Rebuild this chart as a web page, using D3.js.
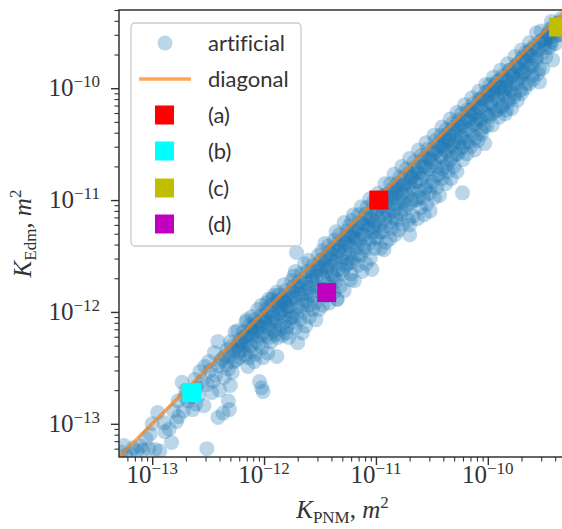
<!DOCTYPE html>
<html>
<head>
<meta charset="utf-8">
<script src="https://cdn.jsdelivr.net/npm/d3@7"></script>
<style>
  body { margin: 0; background: #fff; }
  svg { display: block; }
  text { font-variant-ligatures: none; }
</style>
</head>
<body>
<svg id="chart" width="562" height="529"></svg>
<script>
// permeability pairs: [K_PNM, K_Edm] in m^2
var artificial = [
  [5.3e-14, 5.6e-14], [5.8e-14, 5.2e-14], [6.3e-14, 5.4e-14], [6.8e-14, 6.1e-14], [7.3e-14, 5.7e-14],
  [7.9e-14, 6.3e-14], [8.2e-14, 5.8e-14], [8.8e-14, 7.4e-14], [9.3e-14, 6.0e-14], [5.6e-14, 6.4e-14],
  [9.6e-14, 8.1e-14],
  [1.0e-13, 1.0e-13], [1.12e-13, 1.26e-13], [1.3e-13, 8.5e-14], [1.49e-13, 6.8e-14], [1.06e-13, 5.9e-14],
  [1.17e-13, 5.7e-14], [1.72e-13, 1.16e-13], [1.28e-13, 1.02e-13], [1.42e-13, 9.0e-14], [1.55e-13, 1.3e-13],
  [1.65e-13, 1.05e-13],
  [1.85e-13, 2.35e-13], [2.41e-13, 2.49e-13], [2.3e-13, 1.34e-13], [2.67e-13, 2.93e-13], [2.95e-13, 3.25e-13],
  [2.1e-13, 1.6e-13], [2.6e-13, 1.8e-13], [2.9e-13, 1.45e-13], [1.9e-13, 1.3e-13], [1.7e-13, 1.6e-13],
  [3.1e-13, 2.25e-13], [2.0e-13, 2.0e-13], [2.2e-13, 1.75e-13], [2.5e-13, 2.1e-13], [2.8e-13, 2.4e-13],
  [2.45e-13, 1.5e-13], [1.95e-13, 1.75e-13], [3.08e-13, 6.0e-14],
  [3.87e-13, 5.43e-13], [3.6e-13, 4.33e-13], [4.9e-13, 4.0e-13], [5.2e-13, 2.88e-13], [4.9e-13, 1.34e-13],
  [3.87e-13, 1.14e-13], [5.1e-13, 4.9e-13], [3.3e-13, 3.0e-13], [3.5e-13, 2.4e-13], [3.9e-13, 3.3e-13],
  [4.2e-13, 3.8e-13], [4.4e-13, 2.6e-13], [4.6e-13, 3.4e-13], [4.0e-13, 2.0e-13], [3.4e-13, 1.9e-13],
  [4.7e-13, 4.6e-13], [5.4e-13, 3.6e-13], [5.0e-13, 2.2e-13], [3.7e-13, 2.7e-13], [4.3e-13, 1.25e-13],
  [3.2e-13, 3.6e-13], [4.8e-13, 1.6e-13],
  [7.16e-13, 3.25e-13], [9.1e-13, 2.39e-13], [9.5e-13, 2.1e-13], [9.8e-13, 1.94e-13], [6.1e-13, 5.66e-13],
  [7.8e-13, 9.1e-13], [8.3e-13, 8.5e-13], [9.8e-13, 3.9e-13], [5.8e-13, 6.8e-13], [6.4e-13, 4.6e-13],
  [6.7e-13, 6.0e-13], [7.0e-13, 5.2e-13], [7.4e-13, 7.6e-13], [7.5e-13, 4.4e-13], [8.0e-13, 6.5e-13],
  [8.6e-13, 5.5e-13], [8.8e-13, 1.05e-12], [9.2e-13, 7.4e-13], [9.6e-13, 4.8e-13], [6.0e-13, 3.9e-13],
  [6.9e-13, 8.1e-13], [8.4e-13, 4.2e-13], [9.4e-13, 9.3e-13], [5.9e-13, 5.0e-13], [7.7e-13, 5.9e-13],
  [8.9e-13, 6.1e-13],
  [1.3e-12, 4.0e-13], [1.08e-12, 4.3e-13], [1.06e-12, 1.21e-12], [1.02e-12, 8.0e-13], [1.05e-12, 6.2e-13],
  [1.1e-12, 1.0e-12], [1.12e-12, 7.1e-13], [1.15e-12, 5.4e-13], [1.18e-12, 1.3e-12], [1.2e-12, 9.0e-13],
  [1.24e-12, 6.8e-13], [1.27e-12, 1.1e-12], [1.3e-12, 8.4e-13], [1.33e-12, 5.9e-13], [1.36e-12, 1.42e-12],
  [1.4e-12, 1.0e-12], [1.43e-12, 7.6e-13], [1.46e-12, 6.2e-13], [1.5e-12, 1.22e-12], [1.53e-12, 9.1e-13],
  [1.56e-12, 1.55e-12], [1.6e-12, 7.3e-13], [1.63e-12, 1.1e-12], [1.66e-12, 5.9e-13], [1.7e-12, 1.3e-12],
  [1.74e-12, 8.9e-13], [1.76e-12, 1.9e-12], [1.04e-12, 1.05e-12], [1.22e-12, 1.4e-12], [1.38e-12, 1.19e-12],
  [1.58e-12, 1.35e-12], [1.68e-12, 1.02e-12],
  [1.8e-12, 1.5e-12], [1.82e-12, 9.0e-13], [1.85e-12, 2.1e-12], [1.9e-12, 7.2e-13], [1.95e-12, 3.4e-12],
  [1.95e-12, 1.7e-12], [2.0e-12, 1.1e-12], [2.0e-12, 5.3e-13], [2.05e-12, 1.45e-12], [2.1e-12, 8.6e-13],
  [2.15e-12, 2.2e-12], [2.2e-12, 1.3e-12], [2.25e-12, 1.0e-12], [2.3e-12, 2.7e-12], [2.35e-12, 7.5e-13],
  [2.4e-12, 1.5e-12], [2.45e-12, 2.3e-12], [2.5e-12, 1.15e-12], [2.55e-12, 9.0e-13], [2.6e-12, 1.9e-12],
  [2.65e-12, 1.4e-12], [2.7e-12, 1.05e-12], [2.75e-12, 2.6e-12], [2.8e-12, 1.7e-12], [2.85e-12, 1.2e-12],
  [2.9e-12, 8.5e-13], [2.95e-12, 2.1e-12], [3.0e-12, 1.55e-12], [3.05e-12, 3.2e-12], [3.1e-12, 1.05e-12],
  [2.2e-12, 6.5e-13], [2.7e-12, 2.05e-12],
  [3.2e-12, 2.4e-12], [3.25e-12, 1.6e-12], [3.3e-12, 3.5e-12], [3.35e-12, 1.15e-12], [3.4e-12, 2.0e-12],
  [3.5e-12, 2.9e-12], [3.55e-12, 1.4e-12], [3.6e-12, 2.3e-12], [3.7e-12, 1.8e-12], [3.75e-12, 3.9e-12],
  [3.8e-12, 1.2e-12], [3.9e-12, 2.6e-12], [3.95e-12, 1.65e-12], [4.0e-12, 3.3e-12], [4.1e-12, 2.1e-12],
  [4.2e-12, 1.5e-12], [4.25e-12, 4.4e-12], [4.3e-12, 2.8e-12], [4.4e-12, 1.9e-12], [4.5e-12, 1.3e-12],
  [4.55e-12, 3.6e-12], [4.6e-12, 2.4e-12], [4.7e-12, 4.9e-12], [4.8e-12, 1.7e-12], [4.9e-12, 3.1e-12],
  [5.0e-12, 2.2e-12], [5.1e-12, 4.3e-12], [5.2e-12, 1.55e-12], [5.3e-12, 3.5e-12], [5.4e-12, 2.6e-12],
  [5.5e-12, 5.3e-12], [5.9e-12, 1.94e-12], [4.5e-12, 1.3e-12],
  [5.6e-12, 4.0e-12], [5.7e-12, 2.7e-12], [5.8e-12, 5.9e-12], [5.9e-12, 3.3e-12], [6.0e-12, 2.2e-12],
  [6.2e-12, 4.7e-12], [6.3e-12, 3.0e-12], [6.4e-12, 1.9e-12], [6.6e-12, 5.6e-12], [6.7e-12, 3.8e-12],
  [6.9e-12, 2.6e-12], [7.0e-12, 7.4e-12], [7.2e-12, 4.4e-12], [7.3e-12, 3.2e-12], [7.5e-12, 2.3e-12],
  [7.6e-12, 6.2e-12], [7.8e-12, 4.9e-12], [8.0e-12, 3.6e-12], [8.2e-12, 2.7e-12], [8.3e-12, 8.6e-12],
  [8.5e-12, 5.5e-12], [8.7e-12, 4.1e-12], [8.9e-12, 3.0e-12], [9.0e-12, 7.0e-12], [9.2e-12, 2.4e-12],
  [9.4e-12, 5.2e-12], [9.5e-12, 9.6e-12], [9.7e-12, 3.7e-12], [9.8e-12, 6.3e-12], [6.1e-12, 6.6e-12],
  [8.1e-12, 6.9e-12], [9.9e-12, 4.6e-12],
  [1.0e-11, 7.8e-12], [1.02e-11, 4.6e-12], [1.04e-11, 1.15e-11], [1.07e-11, 6.0e-12], [1.1e-11, 3.7e-12],
  [1.12e-11, 8.9e-12], [1.15e-11, 5.2e-12], [1.18e-11, 1.1e-11], [1.2e-11, 6.8e-12], [1.23e-11, 4.2e-12],
  [1.26e-11, 9.5e-12], [1.3e-11, 7.4e-12], [1.33e-11, 4.5e-12], [1.35e-11, 1.4e-11], [1.38e-11, 5.6e-12],
  [1.42e-11, 1.05e-11], [1.45e-11, 8.0e-12], [1.48e-11, 4.9e-12], [1.5e-11, 1.25e-11], [1.53e-11, 6.6e-12],
  [1.56e-11, 9.2e-12], [1.6e-11, 5.4e-12], [1.63e-11, 1.6e-11], [1.66e-11, 7.6e-12], [1.7e-11, 1.15e-11],
  [1.73e-11, 6.1e-12], [1.76e-11, 9.8e-12], [1.4e-11, 1.25e-11], [1.18e-11, 3.6e-12], [1.58e-11, 1.35e-11],
  [1.8e-11, 1.4e-11], [1.83e-11, 8.2e-12], [1.87e-11, 1.9e-11], [1.9e-11, 1.1e-11], [1.95e-11, 6.6e-12],
  [2.0e-11, 4.9e-12], [2.0e-11, 6.0e-12], [2.02e-11, 1.6e-11], [2.06e-11, 9.5e-12], [2.1e-11, 1.25e-11],
  [2.15e-11, 7.2e-12], [2.2e-11, 2.2e-11], [2.25e-11, 1.45e-11], [2.3e-11, 1.0e-11], [2.35e-11, 6.8e-12],
  [2.4e-11, 1.75e-11], [2.45e-11, 1.2e-11], [2.5e-11, 8.5e-12], [2.55e-11, 2.5e-11], [2.6e-11, 1.55e-11],
  [2.65e-11, 1.05e-11], [2.7e-11, 7.4e-12], [2.75e-11, 2.0e-11], [2.8e-11, 1.3e-11], [2.85e-11, 9.2e-12],
  [2.9e-11, 2.85e-11], [2.95e-11, 1.7e-11], [3.0e-11, 1.15e-11], [3.05e-11, 8.0e-12], [3.1e-11, 2.2e-11],
  [2.2e-11, 1.7e-11], [2.7e-11, 2.35e-11],
  [3.2e-11, 1.45e-11], [3.25e-11, 2.6e-11], [3.34e-11, 1.05e-11], [3.4e-11, 3.4e-11], [3.45e-11, 2.0e-11],
  [3.5e-11, 1.3e-11], [3.6e-11, 2.9e-11], [3.65e-11, 1.7e-11], [3.7e-11, 1.1e-11], [3.8e-11, 3.8e-11],
  [3.85e-11, 2.4e-11], [3.9e-11, 1.55e-11], [4.0e-11, 3.1e-11], [4.1e-11, 2.0e-11], [4.2e-11, 1.4e-11],
  [4.25e-11, 4.3e-11], [4.3e-11, 2.7e-11], [4.4e-11, 1.8e-11], [4.5e-11, 3.5e-11], [4.6e-11, 2.3e-11],
  [4.7e-11, 1.55e-11], [4.8e-11, 4.8e-11], [4.9e-11, 3.0e-11], [5.0e-11, 2.0e-11], [5.1e-11, 3.9e-11],
  [5.2e-11, 2.6e-11], [5.3e-11, 1.8e-11], [5.4e-11, 5.2e-11], [5.5e-11, 3.3e-11], [4.4e-11, 3.9e-11],
  [5.94e-11, 1.16e-11],
  [5.6e-11, 4.4e-11], [5.7e-11, 2.9e-11], [5.8e-11, 5.9e-11], [5.9e-11, 3.6e-11], [6.0e-11, 2.3e-11],
  [6.2e-11, 5.0e-11], [6.3e-11, 3.3e-11], [6.5e-11, 2.6e-11], [6.6e-11, 6.4e-11], [6.8e-11, 4.2e-11],
  [7.0e-11, 3.0e-11], [7.1e-11, 5.6e-11], [7.3e-11, 3.8e-11], [7.5e-11, 7.3e-11], [7.6e-11, 2.8e-11],
  [7.8e-11, 4.8e-11], [8.0e-11, 6.2e-11], [8.2e-11, 3.4e-11], [8.4e-11, 8.0e-11], [8.6e-11, 5.2e-11],
  [8.8e-11, 3.9e-11], [9.0e-11, 7.0e-11], [9.2e-11, 4.5e-11], [9.4e-11, 3.2e-11], [9.6e-11, 9.2e-11],
  [9.8e-11, 5.8e-11], [7.0e-11, 6.4e-11], [8.8e-11, 8.1e-11],
  [1.0e-10, 8.6e-11], [1.02e-10, 5.6e-11], [1.05e-10, 1.08e-10], [1.08e-10, 7.0e-11], [1.1e-10, 4.7e-11],
  [1.13e-10, 9.4e-11], [1.16e-10, 6.2e-11], [1.2e-10, 1.15e-10], [1.23e-10, 7.9e-11], [1.26e-10, 5.5e-11],
  [1.3e-10, 1.02e-10], [1.33e-10, 6.8e-11], [1.36e-10, 1.3e-10], [1.4e-10, 8.6e-11], [1.43e-10, 5.9e-11],
  [1.47e-10, 6.4e-11], [1.5e-10, 1.18e-10], [1.53e-10, 7.6e-11], [1.56e-10, 1.45e-10], [1.6e-10, 9.7e-11],
  [1.64e-10, 6.6e-11], [1.68e-10, 1.3e-10], [1.72e-10, 8.4e-11], [1.76e-10, 1.55e-10], [1.12e-10, 1.0e-10],
  [1.45e-10, 1.05e-10],
  [1.8e-10, 1.1e-10], [1.84e-10, 7.8e-11], [1.9e-10, 1.7e-10], [1.95e-10, 1.25e-10], [2.0e-10, 9.0e-11],
  [2.05e-10, 1.9e-10], [2.1e-10, 1.4e-10], [2.15e-10, 1.0e-10], [2.2e-10, 2.1e-10], [2.3e-10, 1.5e-10],
  [2.35e-10, 1.1e-10], [2.4e-10, 2.2e-10], [2.5e-10, 1.6e-10], [2.55e-10, 1.2e-10], [2.6e-10, 2.4e-10],
  [2.7e-10, 1.8e-10], [2.8e-10, 1.35e-10], [2.9e-10, 1.14e-10], [2.9e-10, 2.6e-10], [3.0e-10, 2.0e-10],
  [3.1e-10, 1.5e-10], [2.25e-10, 1.8e-10],
  [3.2e-10, 2.7e-10], [3.3e-10, 1.9e-10], [3.4e-10, 3.0e-10], [3.5e-10, 2.3e-10], [3.6e-10, 3.4e-10],
  [3.7e-10, 2.6e-10], [3.8e-10, 1.79e-10], [3.9e-10, 3.3e-10], [4.0e-10, 2.5e-10], [4.2e-10, 3.8e-10],
  [4.3e-10, 3.0e-10], [2.72e-10, 3.13e-10], [4.5e-10, 4.2e-10],
  // dense core of the band
  [4.1e-13, 3.6e-13], [4.5e-13, 4.1e-13], [4.8e-13, 3.1e-13], [5.3e-13, 4.5e-13], [5.6e-13, 3.7e-13],
  [6.2e-13, 5.3e-13], [6.5e-13, 6.6e-13], [6.8e-13, 4.1e-13], [7.2e-13, 6.3e-13], [7.6e-13, 5.0e-13],
  [7.9e-13, 7.3e-13], [8.2e-13, 3.6e-13], [8.5e-13, 6.8e-13], [8.7e-13, 7.9e-13], [9.0e-13, 5.2e-13],
  [9.3e-13, 8.2e-13], [9.7e-13, 6.4e-13], [5.0e-13, 5.4e-13], [6.0e-13, 4.4e-13], [7.3e-13, 3.9e-13],
  [1.01e-12, 9.2e-13], [1.07e-12, 7.4e-13], [1.11e-12, 5.9e-13], [1.16e-12, 1.15e-12], [1.21e-12, 8.0e-13],
  [1.26e-12, 6.3e-13], [1.31e-12, 1.25e-12], [1.35e-12, 9.6e-13], [1.39e-12, 7.0e-13], [1.44e-12, 1.3e-12],
  [1.49e-12, 1.05e-12], [1.54e-12, 8.2e-13], [1.59e-12, 6.5e-13], [1.65e-12, 1.45e-12], [1.71e-12, 1.12e-12],
  [1.78e-12, 8.0e-13], [1.84e-12, 1.7e-12], [1.9e-12, 1.3e-12], [1.97e-12, 9.5e-13], [2.05e-12, 1.85e-12],
  [2.12e-12, 1.6e-12], [2.2e-12, 1.15e-12], [2.3e-12, 2.0e-12], [2.4e-12, 1.25e-12], [2.5e-12, 1.65e-12],
  [2.65e-12, 2.3e-12], [2.8e-12, 1.4e-12], [3.0e-12, 2.5e-12],
  [3.22e-12, 2.9e-12], [3.3e-12, 2.1e-12], [3.45e-12, 1.6e-12], [3.6e-12, 3.1e-12], [3.7e-12, 2.5e-12],
  [3.85e-12, 3.4e-12], [4.0e-12, 2.2e-12], [4.15e-12, 3.7e-12], [4.3e-12, 2.0e-12], [4.45e-12, 3.2e-12],
  [4.6e-12, 4.1e-12], [4.75e-12, 2.7e-12], [4.9e-12, 3.9e-12], [5.1e-12, 2.4e-12], [5.3e-12, 4.6e-12],
  [5.5e-12, 3.0e-12], [5.7e-12, 4.9e-12], [5.9e-12, 3.9e-12], [6.1e-12, 2.8e-12], [6.4e-12, 5.3e-12],
  [6.6e-12, 4.2e-12], [6.9e-12, 3.3e-12], [7.2e-12, 6.3e-12], [7.5e-12, 5.0e-12], [7.8e-12, 3.8e-12],
  [8.1e-12, 7.5e-12], [8.5e-12, 6.0e-12], [8.8e-12, 4.5e-12], [9.2e-12, 8.0e-12], [9.6e-12, 5.8e-12],
  [1.01e-11, 9.0e-12], [1.05e-11, 6.8e-12], [1.09e-11, 5.2e-12], [1.13e-11, 1.0e-11], [1.17e-11, 7.7e-12],
  [1.21e-11, 5.9e-12], [1.25e-11, 1.12e-11], [1.3e-11, 8.6e-12], [1.35e-11, 6.4e-12], [1.4e-11, 1.15e-11],
  [1.45e-11, 9.3e-12], [1.5e-11, 7.0e-12], [1.56e-11, 1.4e-11], [1.62e-11, 1.05e-11], [1.68e-11, 8.3e-12],
  [1.75e-11, 1.55e-11], [1.82e-11, 1.2e-11], [1.9e-11, 9.0e-12], [1.98e-11, 1.75e-11], [2.06e-11, 1.3e-11],
  [2.15e-11, 1.0e-11], [2.25e-11, 1.95e-11], [2.35e-11, 1.45e-11], [2.45e-11, 1.05e-11], [2.55e-11, 2.2e-11],
  [2.65e-11, 1.7e-11], [2.75e-11, 1.25e-11], [2.88e-11, 2.4e-11], [3.0e-11, 1.9e-11], [3.12e-11, 1.35e-11],
  [3.22e-11, 2.85e-11], [3.35e-11, 2.2e-11], [3.5e-11, 1.65e-11], [3.62e-11, 3.2e-11], [3.75e-11, 2.5e-11],
  [3.9e-11, 1.9e-11], [4.05e-11, 3.6e-11], [4.2e-11, 2.8e-11], [4.35e-11, 2.1e-11], [4.5e-11, 4.0e-11],
  [4.65e-11, 3.1e-11], [4.8e-11, 2.4e-11], [5.0e-11, 4.5e-11], [5.2e-11, 3.4e-11], [5.4e-11, 2.6e-11],
  [5.6e-11, 4.9e-11], [5.8e-11, 3.8e-11], [6.0e-11, 3.0e-11], [6.3e-11, 5.5e-11], [6.5e-11, 4.3e-11],
  [6.8e-11, 3.3e-11], [7.1e-11, 6.2e-11], [7.4e-11, 4.7e-11], [7.7e-11, 3.6e-11], [8.0e-11, 7.0e-11],
  [8.4e-11, 5.3e-11], [8.7e-11, 4.2e-11], [9.1e-11, 7.9e-11], [9.5e-11, 6.0e-11], [9.8e-11, 4.6e-11],
  [1.01e-10, 9.4e-11], [1.05e-10, 7.4e-11], [1.09e-10, 5.9e-11], [1.14e-10, 1.05e-10], [1.18e-10, 8.2e-11],
  [1.22e-10, 6.4e-11], [1.27e-10, 1.17e-10], [1.32e-10, 9.0e-11], [1.37e-10, 7.1e-11], [1.42e-10, 1.28e-10],
  [1.48e-10, 1.0e-10], [1.54e-10, 8.0e-11], [1.6e-10, 1.45e-10], [1.66e-10, 1.1e-10], [1.73e-10, 8.9e-11],
  [1.8e-10, 1.6e-10], [1.87e-10, 1.2e-10], [1.95e-10, 9.6e-11], [2.03e-10, 1.8e-10], [2.12e-10, 1.35e-10],
  [2.2e-10, 1.1e-10], [2.3e-10, 2.05e-10], [2.4e-10, 1.6e-10], [2.5e-10, 1.3e-10], [2.62e-10, 2.3e-10],
  [2.75e-10, 1.9e-10], [2.9e-10, 1.5e-10], [3.05e-10, 2.7e-10],
  [3.25e-10, 2.3e-10], [3.35e-10, 2.8e-10], [3.5e-10, 3.1e-10], [3.65e-10, 2.4e-10], [3.8e-10, 3.5e-10],
  [3.95e-10, 2.9e-10], [4.1e-10, 3.6e-10], [4.25e-10, 3.3e-10], [4.4e-10, 3.9e-10], [4.45e-10, 3.0e-10],
  // upper-left edge, just above the diagonal
  [1.1e-12, 1.3e-12], [1.5e-12, 1.75e-12], [2.5e-12, 2.9e-12], [3.5e-12, 4.1e-12], [4.4e-12, 5.2e-12],
  [5.2e-12, 6.3e-12], [6.3e-12, 7.4e-12], [7.4e-12, 8.7e-12], [8.8e-12, 1.02e-11], [1.2e-11, 1.4e-11],
  [1.45e-11, 1.7e-11], [1.7e-11, 2.0e-11], [2.0e-11, 2.35e-11], [2.4e-11, 2.8e-11], [2.8e-11, 3.25e-11],
  [3.3e-11, 3.8e-11], [3.9e-11, 4.5e-11], [4.6e-11, 5.3e-11], [5.3e-11, 6.1e-11], [6.2e-11, 7.1e-11],
  [7.2e-11, 8.2e-11], [8.3e-11, 9.4e-11], [9.6e-11, 1.08e-10], [1.12e-10, 1.25e-10], [1.3e-10, 1.45e-10],
  [1.5e-10, 1.65e-10], [1.75e-10, 1.92e-10], [2.0e-10, 2.2e-10], [2.35e-10, 2.55e-10], [3.0e-10, 3.25e-10],
  [3.7e-10, 3.95e-10], [1.3e-12, 1.5e-12], [1.9e-12, 2.3e-12], [9.5e-13, 1.15e-12], [7.0e-13, 8.5e-13],
  [5.5e-13, 6.6e-13],
  // more of the core
  [5.7e-13, 4.9e-13], [6.6e-13, 5.1e-13], [7.7e-13, 6.9e-13], [8.9e-13, 7.2e-13], [1.03e-12, 8.6e-13],
  [1.19e-12, 9.7e-13], [1.37e-12, 1.1e-12], [1.57e-12, 1.2e-12], [1.8e-12, 1.35e-12], [2.08e-12, 1.7e-12],
  [2.38e-12, 1.8e-12], [2.72e-12, 1.9e-12], [3.1e-12, 2.7e-12], [3.55e-12, 2.6e-12], [4.05e-12, 2.9e-12],
  [4.65e-12, 3.5e-12], [5.35e-12, 4.1e-12], [6.1e-12, 5.0e-12], [7.0e-12, 5.5e-12], [8.0e-12, 5.9e-12],
  [9.1e-12, 6.7e-12], [1.04e-11, 8.3e-12], [1.19e-11, 9.9e-12], [1.36e-11, 1.05e-11], [1.55e-11, 1.2e-11],
  [1.77e-11, 1.35e-11], [2.02e-11, 1.45e-11], [2.3e-11, 1.85e-11], [2.62e-11, 2.0e-11], [3.0e-11, 2.3e-11],
  [3.42e-11, 2.7e-11], [3.9e-11, 3.0e-11], [4.45e-11, 3.4e-11], [5.1e-11, 4.2e-11], [5.8e-11, 4.6e-11],
  [6.6e-11, 5.1e-11], [7.5e-11, 5.9e-11], [8.6e-11, 6.7e-11], [9.8e-11, 7.9e-11], [1.12e-10, 8.8e-11],
  [1.28e-10, 1.0e-10], [1.46e-10, 1.15e-10], [1.66e-10, 1.3e-10], [1.9e-10, 1.45e-10], [2.16e-10, 1.7e-10],
  [2.46e-10, 1.95e-10], [2.8e-10, 2.2e-10], [3.2e-10, 2.5e-10], [3.6e-10, 2.9e-10], [2.9e-12, 2.3e-12],
  [1.25e-11, 8.0e-12], [4.2e-11, 3.3e-11], [1.4e-10, 9.8e-11], [6.8e-13, 6.0e-13], [1.15e-12, 8.3e-13],
  [2.2e-12, 1.45e-12], [6.6e-12, 4.5e-12], [2.1e-11, 1.6e-11], [7.9e-11, 5.2e-11], [2.0e-10, 1.35e-10]
];

// highlighted samples
var specialLabels = ["(a)", "(b)", "(c)", "(d)"];
var specialPnm = [1.06e-11, 2.26e-13, 4.28e-10, 3.63e-12];
var specialEdm = [1.0e-11, 1.9e-13, 3.52e-10, 1.49e-12];
var specialColors = ["#ff0000", "#00ffff", "#bfbf00", "#bf00bf"];

var majorExps = [-13, -12, -11, -10];
var kMin = 5.05e-14, kMax = 5.0e-10;

var svg = d3.select("#chart");
var pL = 119, pR = 566, pT = 10, pB = 457;
var ink = "#333333";
var serif = "'Liberation Serif', 'DejaVu Serif', serif";
var sans = "Lato, 'Noto Sans', sans-serif";

var x = d3.scaleLog().domain([kMin, kMax]).range([pL, pR]);
var y = d3.scaleLog().domain([kMin, kMax]).range([pB, pT]);

svg.append("defs").append("clipPath").attr("id", "plotclip")
  .append("rect").attr("x", pL).attr("y", pT)
  .attr("width", pR - pL).attr("height", pB - pT);

var plot = svg.append("g").attr("clip-path", "url(#plotclip)");

plot.selectAll("circle.pt")
  .data(artificial)
  .enter()
  .append("circle")
  .attr("class", "pt")
  .attr("cx", function(d) { return x(d[0]); })
  .attr("cy", function(d) { return y(d[1]); })
  .attr("r", 7.5)
  .attr("fill", "#1f77b4")
  .attr("fill-opacity", 0.3);

// y = x line
plot.append("line")
  .attr("x1", x(kMin)).attr("y1", y(kMin))
  .attr("x2", x(kMax)).attr("y2", y(kMax))
  .attr("stroke", "#ff7f0e")
  .attr("stroke-opacity", 0.7)
  .attr("stroke-width", 3.5);

var specials = specialLabels.map(function(l, i) {
  return { label: l, p: specialPnm[i], e: specialEdm[i], c: specialColors[i] };
});

plot.selectAll("rect.sp")
  .data(specials)
  .enter()
  .append("rect")
  .attr("class", "sp")
  .attr("x", function(d) { return x(d.p) - 9.5; })
  .attr("y", function(d) { return y(d.e) - 9.5; })
  .attr("width", 19).attr("height", 19)
  .attr("fill", function(d) { return d.c; });

// axes: major + minor ticks
var ticks = [];
[-14].concat(majorExps).forEach(function(e) {
  for (var m = 1; m <= 9; m++) {
    var v = m * Math.pow(10, e);
    if (v >= kMin && v <= kMax) ticks.push({ v: v, major: m === 1 });
  }
});
var tickVals = ticks.map(function(t) { return t.v; });

var gx = svg.append("g").attr("transform", "translate(0," + pB + ")")
  .call(d3.axisBottom(x).tickValues(tickVals).tickFormat("").tickSizeOuter(0));
var gy = svg.append("g").attr("transform", "translate(" + pL + ",0)")
  .call(d3.axisLeft(y).tickValues(tickVals).tickFormat("").tickSizeOuter(0));

[gx, gy].forEach(function(g) {
  g.select(".domain").remove();
  g.selectAll(".tick line")
    .attr("stroke", ink)
    .attr("stroke-width", function(d, i) { return ticks[i].major ? 1.4 : 1.1; });
});
gx.selectAll(".tick line").attr("y2", function(d, i) { return ticks[i].major ? 8 : 4.5; });
gy.selectAll(".tick line").attr("x2", function(d, i) { return ticks[i].major ? -8 : -4.5; });

// spines
svg.append("rect")
  .attr("x", pL).attr("y", pT)
  .attr("width", pR - pL).attr("height", pB - pT)
  .attr("fill", "none").attr("stroke", ink).attr("stroke-width", 1.5);

// tick labels 10^e
majorExps.forEach(function(e) {
  var v = Math.pow(10, e);
  var tx = svg.append("text")
    .attr("x", x(v)).attr("y", 483)
    .attr("text-anchor", "middle")
    .attr("font-family", serif).attr("font-size", 25).attr("fill", ink);
  tx.append("tspan").text("10");
  tx.append("tspan").attr("dy", -9).attr("font-size", 17).text("\u2212" + Math.abs(e));

  var ty = svg.append("text")
    .attr("x", 100).attr("y", y(v) + 8)
    .attr("text-anchor", "end")
    .attr("font-family", serif).attr("font-size", 25).attr("fill", ink);
  ty.append("tspan").text("10");
  ty.append("tspan").attr("dy", -9).attr("font-size", 17).text("\u2212" + Math.abs(e));
});

// axis titles
function axisTitle(g, sub) {
  g.attr("font-family", serif).attr("font-size", 25).attr("fill", ink);
  g.append("tspan").attr("font-style", "italic").text("K");
  g.append("tspan").attr("dy", 5).attr("font-size", 17).text(sub);
  g.append("tspan").attr("dy", -5).text(", ");
  g.append("tspan").attr("font-style", "italic").text("m");
  g.append("tspan").attr("dy", -10).attr("font-size", 17).text("2");
}
axisTitle(svg.append("text").attr("x", (pL + pR) / 2).attr("y", 518)
  .attr("text-anchor", "middle"), "PNM");
axisTitle(svg.append("text")
  .attr("transform", "translate(31," + (pT + pB) / 2 + ") rotate(-90)")
  .attr("text-anchor", "middle"), "Edm");

// legend
var lg = svg.append("g");
lg.append("rect")
  .attr("x", 131).attr("y", 23).attr("width", 170).attr("height", 223).attr("rx", 4)
  .attr("fill", "#fff").attr("fill-opacity", 0.8)
  .attr("stroke", "#cccccc").attr("stroke-width", 1.3);

var rowY = [43, 79, 115, 151, 188, 224];
lg.append("circle").attr("cx", 165).attr("cy", rowY[0]).attr("r", 7.5)
  .attr("fill", "#1f77b4").attr("fill-opacity", 0.3);
lg.append("line").attr("x1", 139).attr("x2", 191).attr("y1", rowY[1]).attr("y2", rowY[1])
  .attr("stroke", "#ff7f0e").attr("stroke-opacity", 0.7).attr("stroke-width", 3.5);
specials.forEach(function(d, i) {
  lg.append("rect").attr("x", 155).attr("y", rowY[i + 2] - 9.5)
    .attr("width", 19).attr("height", 19).attr("fill", d.c);
});
var legendLabels = ["artificial", "diagonal"].concat(specialLabels);
legendLabels.forEach(function(t, i) {
  lg.append("text").attr("x", 208).attr("y", rowY[i]).attr("dy", "0.36em")
    .attr("font-family", sans).attr("font-size", 22).attr("fill", ink).text(t);
});
</script>
</body>
</html>
